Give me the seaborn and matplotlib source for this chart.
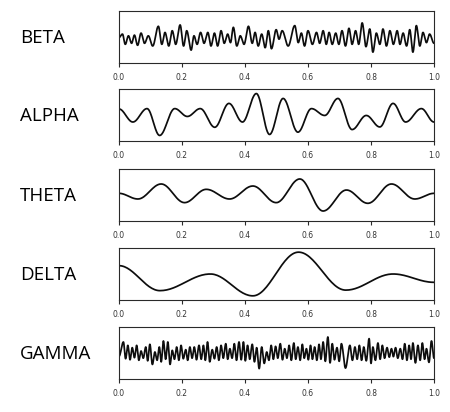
import numpy as np
import pandas as pd
import matplotlib
matplotlib.use("Agg")
import matplotlib.pyplot as plt
import seaborn as sns

# ---------------- data (extrema, panel height fraction 0..1) -------------
wave_names = ["BETA", "ALPHA", "THETA", "DELTA", "GAMMA"]
tick_values = [0.0, 0.2, 0.4, 0.6, 0.8, 1.0]
tick_labels = ["0.0", "0.2", "0.4", "0.6", "0.8", "1.0"]

beta_peak_t = [0.000, 0.011, 0.030, 0.049, 0.070, 0.093, 0.125, 0.146, 0.169, 0.194, 0.215, 0.238,
               0.259, 0.282, 0.303, 0.324, 0.345, 0.363, 0.385, 0.411, 0.432, 0.453, 0.474, 0.499,
               0.518, 0.558, 0.579, 0.600, 0.627, 0.648, 0.667, 0.688, 0.708, 0.730, 0.751, 0.772,
               0.796, 0.817, 0.838, 0.860, 0.883, 0.902, 0.923, 0.944, 0.965, 0.986]
beta_peak_v = [0.490, 0.556, 0.523, 0.536, 0.575, 0.523, 0.706, 0.588, 0.621, 0.732, 0.621, 0.523,
               0.588, 0.588, 0.575, 0.621, 0.556, 0.686, 0.523, 0.706, 0.588, 0.556, 0.621, 0.641,
               0.621, 0.719, 0.575, 0.621, 0.588, 0.621, 0.588, 0.575, 0.621, 0.667, 0.621, 0.771,
               0.654, 0.575, 0.654, 0.621, 0.621, 0.575, 0.641, 0.719, 0.588, 0.556]
beta_trough_t = [0.020, 0.040, 0.059, 0.081, 0.107, 0.136, 0.158, 0.180, 0.205, 0.229, 0.248, 0.270,
                 0.292, 0.313, 0.334, 0.354, 0.374, 0.397, 0.423, 0.442, 0.464, 0.484, 0.508, 0.537,
                 0.569, 0.589, 0.614, 0.637, 0.658, 0.677, 0.698, 0.719, 0.740, 0.761, 0.784, 0.806,
                 0.828, 0.849, 0.871, 0.892, 0.913, 0.933, 0.955, 0.976, 1.000]
beta_trough_v = [0.359, 0.379, 0.340, 0.379, 0.327, 0.359, 0.327, 0.359, 0.327, 0.248, 0.359, 0.379,
                 0.327, 0.327, 0.379, 0.392, 0.327, 0.359, 0.379, 0.327, 0.294, 0.275, 0.458, 0.327,
                 0.392, 0.327, 0.359, 0.379, 0.359, 0.359, 0.359, 0.327, 0.359, 0.359, 0.314, 0.209,
                 0.359, 0.327, 0.359, 0.359, 0.327, 0.209, 0.327, 0.392, 0.380]

alpha_t = [0.000, 0.044, 0.089, 0.129, 0.177, 0.217, 0.258, 0.304, 0.349, 0.392, 0.436, 0.478,
           0.521, 0.568, 0.611, 0.653, 0.695, 0.740, 0.785, 0.828, 0.870, 0.910, 0.960, 1.000]
alpha_v = [0.616, 0.365, 0.623, 0.107, 0.623, 0.472, 0.623, 0.264, 0.723, 0.365, 0.912, 0.126,
           0.818, 0.170, 0.623, 0.491, 0.818, 0.220, 0.491, 0.270, 0.723, 0.365, 0.623, 0.365]

theta_t = [0.000, 0.060, 0.134, 0.208, 0.277, 0.351, 0.425, 0.499, 0.574, 0.648, 0.722, 0.790,
           0.865, 0.939, 1.000]
theta_v = [0.532, 0.423, 0.712, 0.353, 0.609, 0.423, 0.673, 0.353, 0.808, 0.192, 0.596, 0.340,
           0.712, 0.423, 0.532]

delta_t = [0.000, 0.130, 0.290, 0.425, 0.570, 0.720, 0.870, 1.000]
delta_v = [0.660, 0.180, 0.500, 0.080, 0.920, 0.190, 0.500, 0.340]

gamma_peak_t = [0.000, 0.014, 0.028, 0.042, 0.056, 0.070, 0.085, 0.098, 0.114, 0.128, 0.141, 0.155,
                0.169, 0.183, 0.197, 0.212, 0.225, 0.239, 0.254, 0.268, 0.281, 0.296, 0.310, 0.324,
                0.339, 0.352, 0.366, 0.381, 0.395, 0.408, 0.423, 0.437, 0.453, 0.469, 0.483, 0.497,
                0.512, 0.526, 0.540, 0.555, 0.568, 0.582, 0.595, 0.608, 0.621, 0.635, 0.648, 0.663,
                0.677, 0.692, 0.706, 0.733, 0.749, 0.763, 0.777, 0.794, 0.806, 0.822, 0.836, 0.851,
                0.865, 0.878, 0.893, 0.907, 0.921, 0.933, 0.949, 0.963, 0.976, 0.992]
gamma_peak_v = [0.436, 0.712, 0.647, 0.603, 0.647, 0.538, 0.615, 0.667, 0.519, 0.615, 0.731, 0.712,
                0.551, 0.615, 0.647, 0.564, 0.615, 0.615, 0.647, 0.647, 0.712, 0.564, 0.615, 0.647,
                0.679, 0.583, 0.679, 0.712, 0.712, 0.647, 0.667, 0.603, 0.615, 0.519, 0.647, 0.628,
                0.679, 0.583, 0.647, 0.692, 0.615, 0.667, 0.583, 0.647, 0.615, 0.667, 0.712, 0.808,
                0.679, 0.603, 0.679, 0.647, 0.615, 0.647, 0.615, 0.776, 0.615, 0.692, 0.647, 0.603,
                0.583, 0.603, 0.583, 0.679, 0.647, 0.692, 0.647, 0.692, 0.583, 0.731]
gamma_trough_t = [0.021, 0.035, 0.049, 0.063, 0.077, 0.091, 0.106, 0.121, 0.134, 0.148, 0.162, 0.176,
                  0.190, 0.204, 0.218, 0.232, 0.246, 0.261, 0.274, 0.288, 0.303, 0.317, 0.331, 0.345,
                  0.359, 0.373, 0.388, 0.401, 0.415, 0.430, 0.445, 0.461, 0.476, 0.490, 0.504, 0.519,
                  0.533, 0.547, 0.561, 0.575, 0.588, 0.601, 0.614, 0.628, 0.641, 0.655, 0.670, 0.684,
                  0.699, 0.719, 0.741, 0.756, 0.770, 0.785, 0.800, 0.814, 0.829, 0.843, 0.858, 0.871,
                  0.885, 0.900, 0.914, 0.927, 0.941, 0.956, 0.970, 0.984, 1.000]
gamma_trough_v = [0.39, 0.37, 0.41, 0.36, 0.40, 0.35, 0.28, 0.36, 0.33, 0.38, 0.28, 0.38,
                  0.36, 0.39, 0.36, 0.40, 0.37, 0.38, 0.36, 0.33, 0.39, 0.36, 0.40, 0.38,
                  0.40, 0.36, 0.37, 0.35, 0.38, 0.33, 0.20, 0.30, 0.36, 0.38, 0.40, 0.37,
                  0.40, 0.36, 0.38, 0.36, 0.40, 0.37, 0.38, 0.36, 0.38, 0.34, 0.31, 0.37,
                  0.34, 0.21, 0.36, 0.38, 0.36, 0.35, 0.30, 0.36, 0.38, 0.40, 0.42, 0.43,
                  0.40, 0.38, 0.36, 0.38, 0.31, 0.36, 0.38, 0.32, 0.40]


def smooth_wave(t, v, steps=30):
    """Join consecutive read extrema with half-cosine segments."""
    t = np.asarray(t, float)
    v = np.asarray(v, float)
    o = np.argsort(t)
    t, v = t[o], v[o]
    xs, ys = [], []
    s = np.linspace(0, 1, steps, endpoint=False)
    for i in range(len(t) - 1):
        xs.append(t[i] + (t[i + 1] - t[i]) * s)
        ys.append(v[i] + (v[i + 1] - v[i]) * (1 - np.cos(np.pi * s)) / 2)
    xs.append([t[-1]])
    ys.append([v[-1]])
    return np.concatenate(xs), np.concatenate(ys)


waves = {
    "BETA": (beta_peak_t + beta_trough_t, beta_peak_v + beta_trough_v),
    "ALPHA": (alpha_t, alpha_v),
    "THETA": (theta_t, theta_v),
    "DELTA": (delta_t, delta_v),
    "GAMMA": (gamma_peak_t + gamma_trough_t, gamma_peak_v + gamma_trough_v),
}

sns.set_style("white")
plt.rcParams["font.family"] = ["DejaVu Sans"]

W, H = 450, 412
fig = plt.figure(figsize=(W / 100, H / 100), dpi=100)

ax_left, ax_w, ax_h = 119, 315, 52
tops = [11, 89, 169, 248, 327]

for name, top in zip(wave_names, tops):
    ax = fig.add_axes([ax_left / W, 1 - (top + ax_h) / H, ax_w / W, ax_h / H])
    t, v = waves[name]
    x, y = smooth_wave(t, v)
    df = pd.DataFrame({"t": x, "v": y})
    sns.lineplot(data=df, x="t", y="v", ax=ax, color="#0d0d0d", linewidth=1.25,
                 sort=False, estimator=None)
    ax.set_xlim(0, 1)
    ax.set_ylim(0, 1)
    ax.set_xticks(tick_values)
    ax.set_xticklabels(tick_labels, fontsize=5.5, color="#333333")
    ax.set_yticks([])
    ax.set_xlabel("")
    ax.set_ylabel("")
    for sp in ax.spines.values():
        sp.set_visible(True)
        sp.set_color("#2a2a2a")
        sp.set_linewidth(0.8)
    ax.tick_params(axis="x", direction="out", length=3, width=0.8, color="#2a2a2a",
                   pad=4, bottom=True)
    fig.text(20 / W, 1 - (top + ax_h / 2 + 1) / H, name, fontsize=13.5,
             family=["Open Sans", "DejaVu Sans"], color="#000000",
             ha="left", va="center")

fig.savefig("out.png", dpi=100)
